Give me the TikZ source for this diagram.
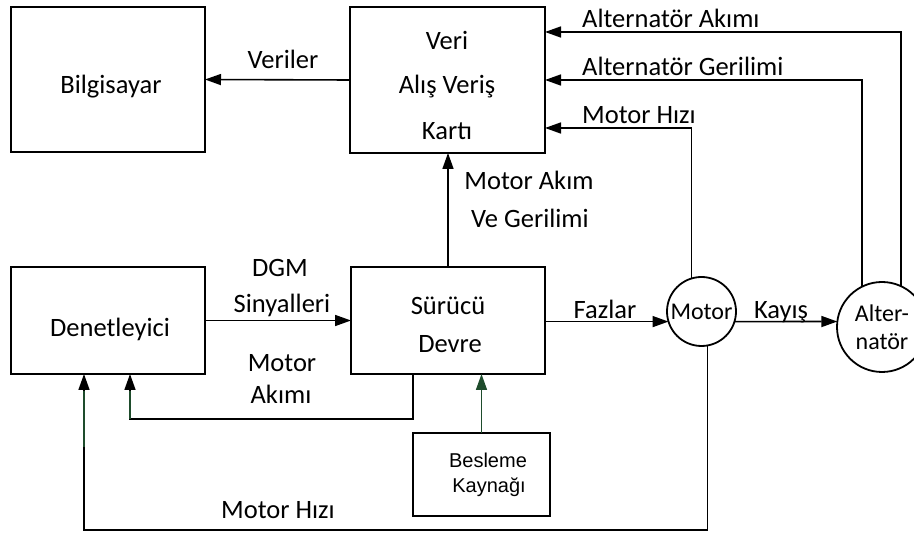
\documentclass[tikz,border=0pt]{standalone}
\usepackage{fontspec}
\setmainfont{Carlito}
\newfontfamily\arialfont{Liberation Sans}
\usetikzlibrary{arrows.meta,calc}
\definecolor{supplygreen}{RGB}{30,76,44}
\begin{document}
\begin{tikzpicture}[x=1pt,y=-1pt,
  blk/.style={draw,line width=1.2pt,rectangle,inner sep=0pt,outer sep=0pt},
  rnd/.style={draw,line width=1.8pt,circle,inner sep=0pt,outer sep=0pt,
    font=\fontsize{24}{28}\selectfont,align=center},
  txt/.style={anchor=base,inner sep=0pt,font=\fontsize{26.5}{30}\selectfont},
  ltxt/.style={txt,anchor=base west},
  stxt/.style={anchor=base,inner sep=0pt,font=\arialfont\fontsize{20}{24}\selectfont},
  conn/.style={line width=1.6pt,-{Triangle[length=16pt,width=11pt]}},
  wire/.style={line width=1.6pt}]
\useasboundingbox (0,0) rectangle (914,534);
\clip (0,0) rectangle (914,534);

% blocks
\node[blk,minimum width=194pt,minimum height=145pt] (bil) at (108,79.5) {};
\node[blk,minimum width=195pt,minimum height=146pt] (veri) at (447.5,80) {};
\node[blk,minimum width=194pt,minimum height=107pt] (den) at (108,320.5) {};
\node[blk,minimum width=194pt,minimum height=107pt] (sur) at (448,320.5) {};
\node[blk,minimum width=137pt,minimum height=83pt] (bes) at (481.5,474.5) {};
\node[rnd,minimum size=69pt] (mot) at (701.5,311.5) {Motor};
\node[rnd,minimum size=90pt] (alt) at (882,327) {Alter-\\natör};

% block texts
\node[txt] (tbil) at (111,94) {Bilgisayar};
\node[txt] (tveri1) at (447,50) {Veri};
\node[txt] (tveri2) at (447,94) {Alış Veriş};
\node[txt] (tveri3) at (447,140) {Kartı};
\node[txt] (tden) at (110,337) {Denetleyici};
\node[txt] (tsur1) at (448,315) {Sürücü};
\node[txt] (tsur2) at (450,353) {Devre};
\node[stxt] (tbes1) at (488,468) {Besleme};
\node[stxt] (tbes2) at (489,493) {Kaynağı};

% routing points
\coordinate (maR) at (413,419);
\coordinate (maL) at (130,419);
\coordinate (mhB) at (84,530);

% connectors
\draw[conn] (veri.west) -- (bil.east);
\draw[conn] (alt.65) |- ($(veri.east)+(0,-48)$);
\draw[conn] (alt.116.4) |- (veri.east);
\draw[conn] (mot.107.7) |- ($(veri.east)+(0,48)$);
\draw[conn] (sur.north) -- (sur.north |- veri.south);
\draw[conn] (den.east) -- (sur.west);
\draw[conn] (sur.east |- mot.197.7) -- (mot.197.7);
\draw[conn] (mot.-17.7) -- (alt.173.6);
\draw[conn] (maR |- sur.south) -- (maR) -- (maL) -- (maL |- den.south);
\draw[conn] (mot.-80.8) |- (mhB) -- (mhB |- den.south);
\draw[conn,supplygreen] (bes.north) -- (bes.north |- sur.south);

% green tint on the feedback lines below the controller
\draw[wire,supplygreen] (maL) -- ($(maL |- den.south)+(0,17)$);
\draw[wire,supplygreen] ($(mhB)+(0,-83)$) -- ($(mhB |- den.south)+(0,17)$);

% connector labels
\node[txt] (lver) at (283,69) {Veriler};
\node[ltxt] (laa) at (582,28) {Alternatör Akımı};
\node[ltxt] (lag) at (582,76) {Alternatör Gerilimi};
\node[ltxt] (lmh1) at (582,124) {Motor Hızı};
\node[txt] (lmag1) at (529,190) {Motor Akım};
\node[txt] (lmag2) at (530,228) {Ve Gerilimi};
\node[txt] (ldgm1) at (280,277) {DGM};
\node[txt] (ldgm2) at (282,313) {Sinyalleri};
\node[txt] (lma1) at (282,372) {Motor};
\node[txt] (lma2) at (281,404) {Akımı};
\node[txt] (lmh2) at (278,519) {Motor Hızı};
\node[txt] (lfaz) at (605,319) {Fazlar};
\node[txt] (lkay) at (781,319) {Kayış};
\end{tikzpicture}
\end{document}
